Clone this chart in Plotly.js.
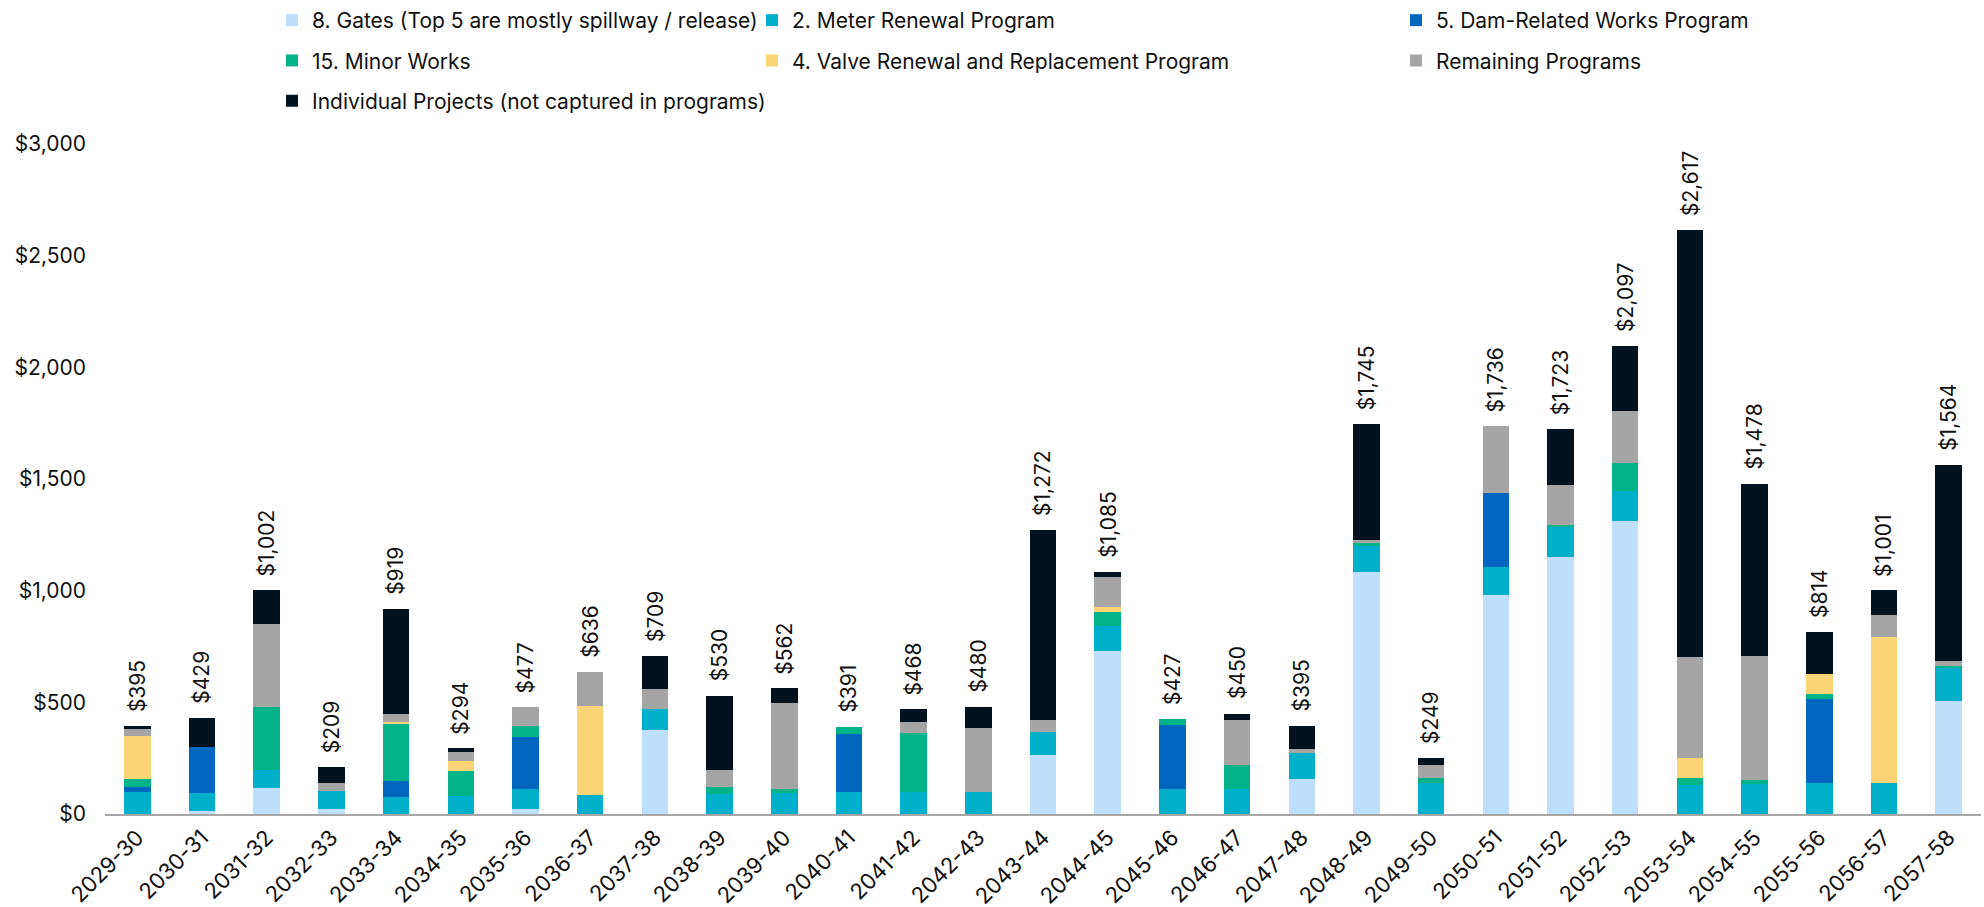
<!DOCTYPE html>
<html>
<head>
<meta charset="utf-8">
<script src="https://cdn.plot.ly/plotly-3.0.1.min.js"></script>
<style>html,body{margin:0;padding:0;background:#fff}#chart{width:1984px;height:907px}</style>
</head>
<body>
<div id="chart"></div>
<script>
const categories = ["2029-30","2030-31","2031-32","2032-33","2033-34","2034-35","2035-36","2036-37","2037-38","2038-39","2039-40","2040-41","2041-42","2042-43","2043-44","2044-45","2045-46","2046-47","2047-48","2048-49","2049-50","2050-51","2051-52","2052-53","2053-54","2054-55","2055-56","2056-57","2057-58"];

const gates     = [0,15,118,22,0,0,22,0,378,0,0,0,0,0,263,732,0,0,155,1083,0,981,1153,1314,0,0,0,0,505];
const meter     = [97,80,79,82,76,81,88,85,91,90,93,97,97,97,106,109,110,112,117,115,140,126,132,132,130,135,141,141,150];
const dam       = [25,205,0,0,73,0,234,0,0,0,0,262,0,0,0,0,287,0,0,0,0,331,0,0,0,0,374,0,0];
const minor     = [33,0,284,0,252,110,49,0,0,33,21,32,266,0,0,64,30,109,0,17,20,0,7,126,29,18,22,0,9];
const valve     = [195,0,0,0,13,45,0,397,0,0,0,0,0,0,0,20,0,0,0,0,0,0,0,0,90,0,92,653,0];
const remaining = [30,0,372,33,36,40,84,154,91,75,385,0,51,290,52,137,0,199,20,12,60,298,180,233,453,556,0,99,23];
const indiv     = [15,129,149,72,469,18,0,0,149,332,63,0,54,93,851,23,0,30,103,518,29,0,251,292,1915,769,185,108,877];

const yTickValues = [0, 500, 1000, 1500, 2000, 2500, 3000];
const yTickLabels = ["$0","$500","$1,000","$1,500","$2,000","$2,500","$3,000"];

const seriesNames = [
  "8. Gates (Top 5 are mostly spillway / release)",
  "2. Meter Renewal Program",
  "5. Dam-Related Works Program",
  "15. Minor Works",
  "4. Valve Renewal and Replacement Program",
  "Remaining Programs",
  "Individual Projects (not captured in programs)"
];
const seriesValues = [gates, meter, dam, minor, valve, remaining, indiv];
const seriesColors = ["#BDDFFC","#00B0CB","#0066BF","#00B388","#FBD476","#A5A5A5","#02131F"];
const seriesLegend = ["legend","legend2","legend3","legend","legend2","legend3","legend"];

const FONT = "Inter, 'Noto Sans', sans-serif";

const traces = seriesValues.map((vals, i) => ({
  type: "bar",
  name: seriesNames[i],
  x: categories,
  y: vals,
  marker: {color: seriesColors[i], line: {width: 0}},
  legend: seriesLegend[i],
  legendgroup: "g" + i,
  hoverinfo: "x+y+name"
}));

const totals = categories.map((c, j) => seriesValues.reduce((s, arr) => s + arr[j], 0));

const annotations = categories.map((c, j) => ({
  x: c, y: totals[j], xref: "x", yref: "y",
  text: "$" + totals[j].toLocaleString("en-US"),
  showarrow: false, textangle: -90,
  xanchor: "center", yanchor: "bottom", yshift: 12,
  font: {family: FONT, size: 21, color: "#111"}
}));

const legendBase = {
  orientation: "v",
  xref: "container", yref: "container",
  xanchor: "left", yanchor: "top",
  y: 1.0,
  bgcolor: "rgba(0,0,0,0)",
  font: {family: FONT, size: 21, color: "#111"},
  tracegroupgap: 10,
  itemwidth: 30
};

const layout = {
  width: 1984, height: 907,
  margin: {l: 105, r: 3, t: 144, b: 93, autoexpand: false},
  paper_bgcolor: "#fff", plot_bgcolor: "#fff",
  barmode: "stack",
  bargap: 0.59,
  font: {family: FONT, size: 21, color: "#111"},
  xaxis: {
    type: "category",
    tickangle: -45,
    automargin: false,
    showline: true, linecolor: "#A6A6A6", linewidth: 2,
    ticks: "", showgrid: false,
    tickfont: {family: FONT, size: 22, color: "#111"}
  },
  yaxis: {
    range: [0, 3000],
    automargin: false,
    tickmode: "array",
    tickvals: yTickValues,
    ticktext: yTickLabels,
    showgrid: false, zeroline: false, showline: false,
    ticklabelstandoff: 18,
    tickfont: {family: FONT, size: 21, color: "#111"}
  },
  legend: Object.assign({}, legendBase, {x: 272/1984}),
  legend2: Object.assign({}, legendBase, {x: 752/1984}),
  legend3: Object.assign({}, legendBase, {x: 1396/1984}),
  annotations: annotations
};

Plotly.newPlot("chart", traces, layout, {displayModeBar: false, staticPlot: true});
</script>
</body>
</html>
